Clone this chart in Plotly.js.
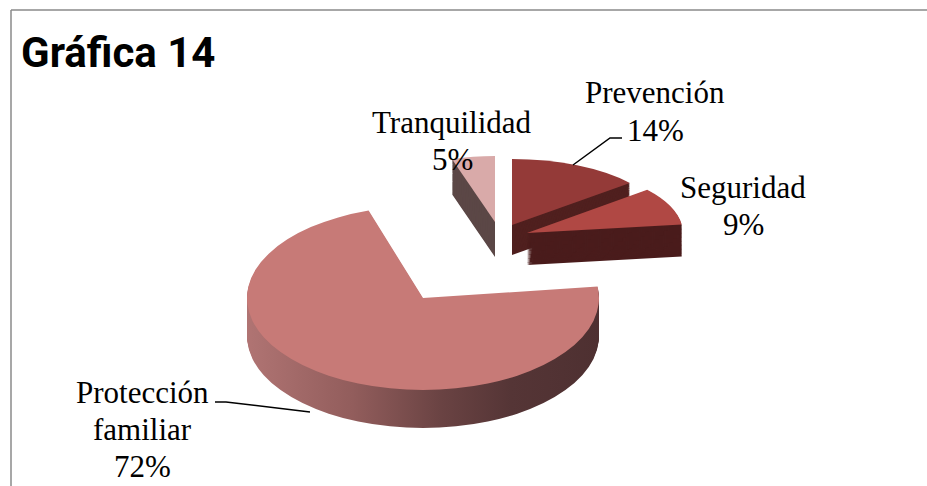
<!DOCTYPE html>
<html>
<head>
<meta charset="utf-8">
<script src="https://cdn.plot.ly/plotly-3.0.1.min.js"></script>
<style>
  html, body { margin: 0; padding: 0; background: #ffffff; }
  #chart { width: 927px; height: 486px; }
</style>
</head>
<body>
<div id="chart"></div>
<script>
// ---- data ----
const labels = ['Prevención', 'Seguridad', 'Protección familiar', 'Tranquilidad'];
const values = [14, 9, 72, 5];
const topColors = ['#943A38', '#B04844', '#C77A77', '#D9AAA9'];
const sideColors = ['#50201F', '#4A1C1C', '#7E4B4A', '#5B4746'];

// ---- layout constants (pixel geometry of each exploded 3D slice) ----
const W = 927, H = 486;
const geom = [
  {x: 512, y: 225, rx: 153, ry: 66, t: 30},
  {x: 527, y: 233, rx: 156, ry: 68, t: 32},
  {x: 423, y: 298, rx: 176, ry: 92, t: 38},
  {x: 495, y: 222, rx: 139, ry: 66, t: 35}
];
const drawOrder = [0, 3, 1, 2];
const LAYERS = 34;
const labelPos = [
  {x: 655, y: 93},
  {x: 743, y: 187},
  {x: 142, y: 392},
  {x: 452, y: 122}
];
const lineGap = 37;

const px = x => x / W;
const py = y => 1 - y / H;

const traces = [];
const meta = [];
drawOrder.forEach(i => {
  const g = geom[i];
  for (let k = LAYERS; k >= 0; k--) {
    const dy = g.t * k / LAYERS;
    const colors = values.map((_, j) => j === i ? (k === 0 ? topColors[i] : sideColors[i]) : 'rgba(0,0,0,0)');
    traces.push({
      type: 'pie',
      values: values,
      labels: labels,
      sort: false,
      direction: 'clockwise',
      rotation: 0,
      marker: {colors: colors, line: {width: 0}},
      textinfo: 'none',
      hoverinfo: 'skip',
      showlegend: false,
      domain: {x: [0, 1], y: [0, 1]}
    });
    meta.push({slice: i, side: k > 0, x: g.x, y: g.y + dy, sx: g.rx, sy: g.ry});
  }
});

const total = values.reduce((a, b) => a + b, 0);
const annotations = [];
labels.forEach((lab, i) => {
  const lines = lab.split(' ').concat([Math.round(values[i] / total * 100) + '%']);
  lines.forEach((ln, j) => {
    annotations.push({
      text: ln, xref: 'paper', yref: 'paper',
      x: px(labelPos[i].x), y: py(labelPos[i].y + j * lineGap),
      xanchor: 'center', yanchor: 'middle', showarrow: false,
      font: {family: 'Liberation Serif, Times New Roman, serif', size: 31, color: '#000000'}
    });
  });
});

function pathPx(pts) {
  return pts.map((p, k) => (k ? 'L' : 'M') + px(p[0]) + ',' + py(p[1])).join(' ');
}

const shapes = [
  {type: 'line', xref: 'paper', yref: 'paper', x0: px(11), y0: py(10), x1: 1, y1: py(10), line: {color: '#8a8a8a', width: 1.5}},
  {type: 'line', xref: 'paper', yref: 'paper', x0: px(11), y0: py(10), x1: px(11), y1: 0, line: {color: '#8a8a8a', width: 1.5}},
  {type: 'path', xref: 'paper', yref: 'paper', path: pathPx([[573, 165], [610, 138], [622, 138]]), line: {color: '#000000', width: 1.5}},
  {type: 'path', xref: 'paper', yref: 'paper', path: pathPx([[215, 402], [226, 402], [310, 412]]), line: {color: '#000000', width: 1.5}}
];

const layout = {
  width: W, height: H,
  margin: {l: 0, r: 0, t: 0, b: 0},
  paper_bgcolor: '#ffffff',
  plot_bgcolor: '#ffffff',
  showlegend: false,
  title: {
    text: '<b>Gráfica 14</b>',
    x: px(21), xanchor: 'left', xref: 'paper',
    y: py(52), yanchor: 'middle', yref: 'paper',
    font: {family: 'Roboto, Arial, sans-serif', size: 42, color: '#000000'}
  },
  annotations: annotations,
  shapes: shapes
};

Plotly.newPlot('chart', traces, layout, {staticPlot: true, displayModeBar: false}).then(() => {
  const cx = W / 2, cy = H / 2, r = Math.min(W, H) / 2;
  const svg = document.querySelector('#chart .main-svg');
  const NS = 'http://www.w3.org/2000/svg';
  // horizontal shading for the rim of the big slice
  let defs = svg.querySelector('defs');
  if (!defs) { defs = document.createElementNS(NS, 'defs'); svg.insertBefore(defs, svg.firstChild); }
  const grad = document.createElementNS(NS, 'linearGradient');
  grad.setAttribute('id', 'rimShade');
  grad.setAttribute('gradientUnits', 'userSpaceOnUse');
  grad.setAttribute('x1', cx - r); grad.setAttribute('y1', 0);
  grad.setAttribute('x2', cx + r); grad.setAttribute('y2', 0);
  [[0, '#B07473'], [0.3, '#925D5C'], [0.55, '#6A4343'], [0.75, '#553536'], [1, '#4E3031']].forEach(s => {
    const st = document.createElementNS(NS, 'stop');
    st.setAttribute('offset', s[0]); st.setAttribute('stop-color', s[1]);
    grad.appendChild(st);
  });
  defs.appendChild(grad);

  const groups = document.querySelectorAll('.pielayer .trace');
  groups.forEach((gEl, n) => {
    const t = meta[n];
    if (!t) return;
    gEl.setAttribute('transform',
      'translate(' + t.x + ',' + t.y + ') scale(' + (t.sx / r) + ',' + (t.sy / r) + ') translate(' + (-cx) + ',' + (-cy) + ')');
    if (t.side && t.slice === 2) {
      const paths = gEl.querySelectorAll('path.surface');
      if (paths[t.slice]) paths[t.slice].style.fill = 'url(#rimShade)';
    }
  });
});
</script>
</body>
</html>
